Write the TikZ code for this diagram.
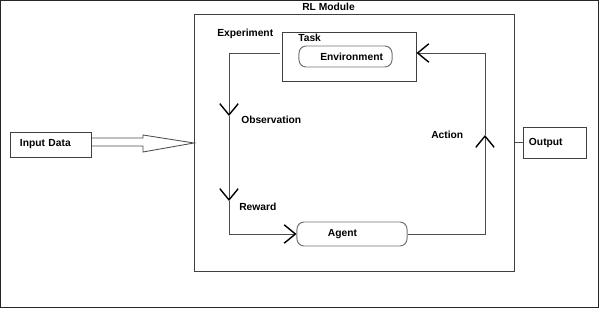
\documentclass[tikz,border=0pt]{standalone}
\usepackage{fontspec}
\setmainfont{Liberation Sans}
\usetikzlibrary{arrows.meta}

\tikzset{
    kasten/.style={draw=black!75, line width=0.7pt, inner sep=0pt},
    rundkasten/.style={kasten, draw=black!55, rounded corners=0.18cm},
    schrift/.style={font=\fontsize{7.3}{9}\selectfont\bfseries},
    marke/.style={schrift, inner sep=0pt, anchor=west},
    linie/.style={draw=black!70, line width=0.7pt},
    spitze/.style={linie, -{Straight Barb[length=0.28cm, width=0.46cm, line width=1pt, color=black]}}
}

\begin{document}
\begin{tikzpicture}[x=0.025cm, y=-0.025cm]
    \useasboundingbox (0,0) rectangle (600,309);
    \draw[black!85, line width=1.1pt] (0.7,0.7) rectangle (598.6,307.6);

    % boxes
    \path node[kasten, minimum width=7.975cm, minimum height=6.4cm] (rl) at (354.5,143) {}
        node[kasten, minimum width=3.325cm, minimum height=1.225cm] (task) at (349.5,56.5) {}
        node[rundkasten, schrift, minimum height=0.525cm, inner xsep=0.225cm,
             text width=1.875cm, align=right] (env) at (345.5,56.5) {Environment}
        node[rundkasten, schrift, minimum height=0.6cm, inner xsep=0.775cm,
             text width=1.2cm, align=left] (agent) at (352,234) {Agent}
        node[kasten, schrift, minimum height=0.625cm, inner xsep=0.225cm,
             text width=1.55cm, align=left] (input) at (51,144.5) {Input Data}
        node[kasten, schrift, minimum height=0.775cm, inner xsep=0.15cm,
             text width=1.275cm, align=left] (output) at (554.5,142.5) {Output};

    % labels
    \node[marke, anchor=base west] (rltitel) at (302,10.5) {RL Module};
    \node[marke] (exptitel) at (217,34) {Experiment};
    \node[marke] (tasktitel) at (298,38) {Task};
    \node[marke] (obslabel) at (241,120) {Observation};
    \node[marke] (rewlabel) at (239,207) {Reward};
    \node[marke] (actlabel) at (431,135) {Action};

    % loop points
    \coordinate (envin) at (280,53);
    \coordinate (tl) at (229,53);
    \coordinate (obs) at (229,116);
    \coordinate (rew) at (229,201);
    \coordinate (bl) at (229,234);
    \coordinate (br) at (485,234);
    \coordinate (act) at (485,135);
    \coordinate (tr) at (485,53);

    \draw[spitze] (envin) -- (tl) -- (obs);
    \draw[spitze] (obs) -- (rew);
    \draw[spitze] (rew) -- (bl) -- (agent.west);
    \draw[spitze] (agent.east) -- (br) -- (act);
    \draw[spitze] (act) -- (tr) -- (task.east |- tr);

    \draw[linie] (rl.east |- output.west) -- (output.west);

    % input arrow
    \coordinate (inoben) at (143,138);
    \coordinate (inunten) at (143,146);
    \coordinate (intip) at (194,143);
    \draw[black!70, line width=0.6pt] (input.east |- inoben) -- (inoben) -- ++(0,-3) -- (intip)
        -- (143,152) -- (inunten) -- (input.east |- inunten);
\end{tikzpicture}
\end{document}
